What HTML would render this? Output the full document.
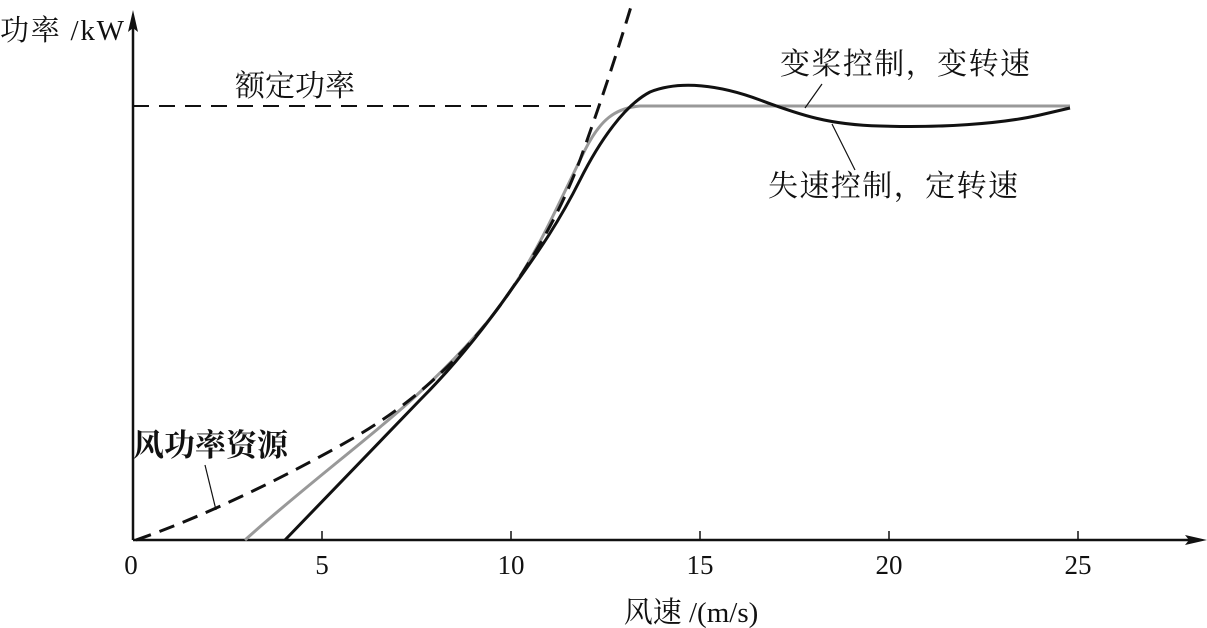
<!DOCTYPE html>
<html><head><meta charset="utf-8"><style>
html,body{margin:0;padding:0;background:#fff;}
svg{display:block;}
text{font-family:"Liberation Serif","Noto Serif CJK SC","Noto Sans CJK SC",serif;fill:#111;}
</style></head><body>
<svg width="1207" height="628" viewBox="0 0 1207 628" xmlns="http://www.w3.org/2000/svg">
<line x1="133" y1="540" x2="1195" y2="540" stroke="#111" stroke-width="2.5"/>
<polygon points="1207,540 1185,535 1189,540 1185,545" fill="#111"/>
<line x1="133" y1="540" x2="133" y2="22" stroke="#111" stroke-width="2.5"/>
<polygon points="133,10 128,32 133,28 138,32" fill="#111"/>
<g stroke="#111" stroke-width="1.5">
<line x1="322" y1="540" x2="322" y2="531"/><line x1="511" y1="540" x2="511" y2="531"/>
<line x1="700" y1="540" x2="700" y2="531"/><line x1="889" y1="540" x2="889" y2="531"/>
<line x1="1078" y1="540" x2="1078" y2="531"/>
</g>
<g font-size="27" text-anchor="middle">
<text x="131" y="574">0</text><text x="322" y="574">5</text><text x="511" y="574">10</text>
<text x="700" y="574">15</text><text x="889" y="574">20</text><text x="1078" y="574">25</text>
</g>
<text x="691" y="622" font-size="29" text-anchor="middle">风速 /(m/s)</text>
<text x="0" y="40" font-size="29" textLength="124">功率 /kW</text>
<line x1="133" y1="106" x2="600" y2="106" stroke="#111" stroke-width="2" stroke-dasharray="16,10"/>
<text x="235" y="96" font-size="30">额定功率</text>
<path d="M245,540 C300,490 380,430 420,392 C460,355 490,322 511,290 C540,248 560,200 585,150 C600,120 615,108 640,106 L1070,106" fill="none" stroke="#999" stroke-width="3"/>
<path d="M285,540 L420,400 C460,360 490,320 511,290 C540,250 560,220 580,180 C600,140 625,105 650,92 C680,80 720,85 760,100 C800,115 830,125 880,126 C940,128 1000,124 1040,115 L1070,108" fill="none" stroke="#111" stroke-width="3"/>
<path d="M136,540 C200,518 280,480 350,440 C420,400 470,350 511,290 C545,240 565,200 580,160 C598,110 615,60 633,0" fill="none" stroke="#111" stroke-width="3" stroke-dasharray="16,9"/>
<text x="133" y="456" font-size="31" font-weight="bold" font-family="Liberation Sans, Noto Sans CJK SC, sans-serif">风功率资源</text>
<line x1="205" y1="465" x2="216" y2="510" stroke="#111" stroke-width="1.2"/>
<text x="780" y="74" font-size="30" textLength="250">变桨控制，变转速</text>
<line x1="822" y1="84" x2="805" y2="108" stroke="#111" stroke-width="1.2"/>
<text x="768" y="196" font-size="30" textLength="250">失速控制，定转速</text>
<line x1="855" y1="170" x2="832" y2="124" stroke="#111" stroke-width="1.2"/>
</svg>
</body></html>
